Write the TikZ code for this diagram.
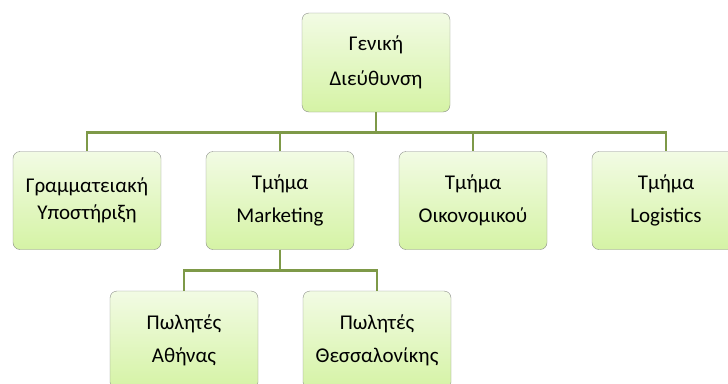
\documentclass[tikz,border=0pt]{standalone}
\usepackage{fontspec}
\setmainfont{Carlito}

\definecolor{boxtop}{RGB}{242,251,228}
\definecolor{boxbot}{RGB}{213,243,165}
\definecolor{boxline}{RGB}{138,140,136}
\definecolor{linkcol}{RGB}{126,153,72}

\begin{document}
\begin{tikzpicture}[x=1pt,y=-1pt,
    unit/.style={draw=boxline, rounded corners=7pt, top color=boxtop, bottom color=boxbot,
        minimum width=148pt, minimum height=98pt, inner sep=0pt, align=center,
        font=\fontsize{21}{33}\selectfont},
    link/.style={draw=linkcol, line width=2.6pt}]
    \pgfmathsetmacro{\dx}{193}
    \pgfmathsetmacro{\xa}{87}
    \pgfmathsetmacro{\ya}{200.5}
    \pgfmathsetmacro{\yb}{340}

    \useasboundingbox (0,0) rectangle (728,383);
    \clip (0,0) rectangle (728,383);

    \node[unit, minimum height=99pt, font=\fontsize{21}{35}\selectfont] (gd) at (376,62.5) {Γενική\\Διεύθυνση};

    \node[unit, font=\fontsize{21}{27}\selectfont] (gram) at (\xa,\ya) {Γραμματειακή\\Υποστήριξη};
    \node[unit] (mkt) at (\xa+\dx,\ya) {Τμήμα\\Marketing};
    \node[unit] (oik) at (\xa+2*\dx,\ya) {Τμήμα\\Οικονομικού};
    \node[unit] (log) at (\xa+3*\dx,\ya) {Τμήμα\\Logistics};

    \node[unit] (ath) at (184,\yb) {Πωλητές\\Αθήνας};
    \node[unit] (thes) at (184+\dx,\yb) {Πωλητές\\Θεσσαλονίκης};

    \foreach \t in {gram,mkt,oik,log}
        \draw[link] (gd.south) -- ++(0,20) -| (\t.north);
    \foreach \t in {ath,thes}
        \draw[link] (mkt.south) -- ++(0,21) -| (\t.north);

\end{tikzpicture}
\end{document}
